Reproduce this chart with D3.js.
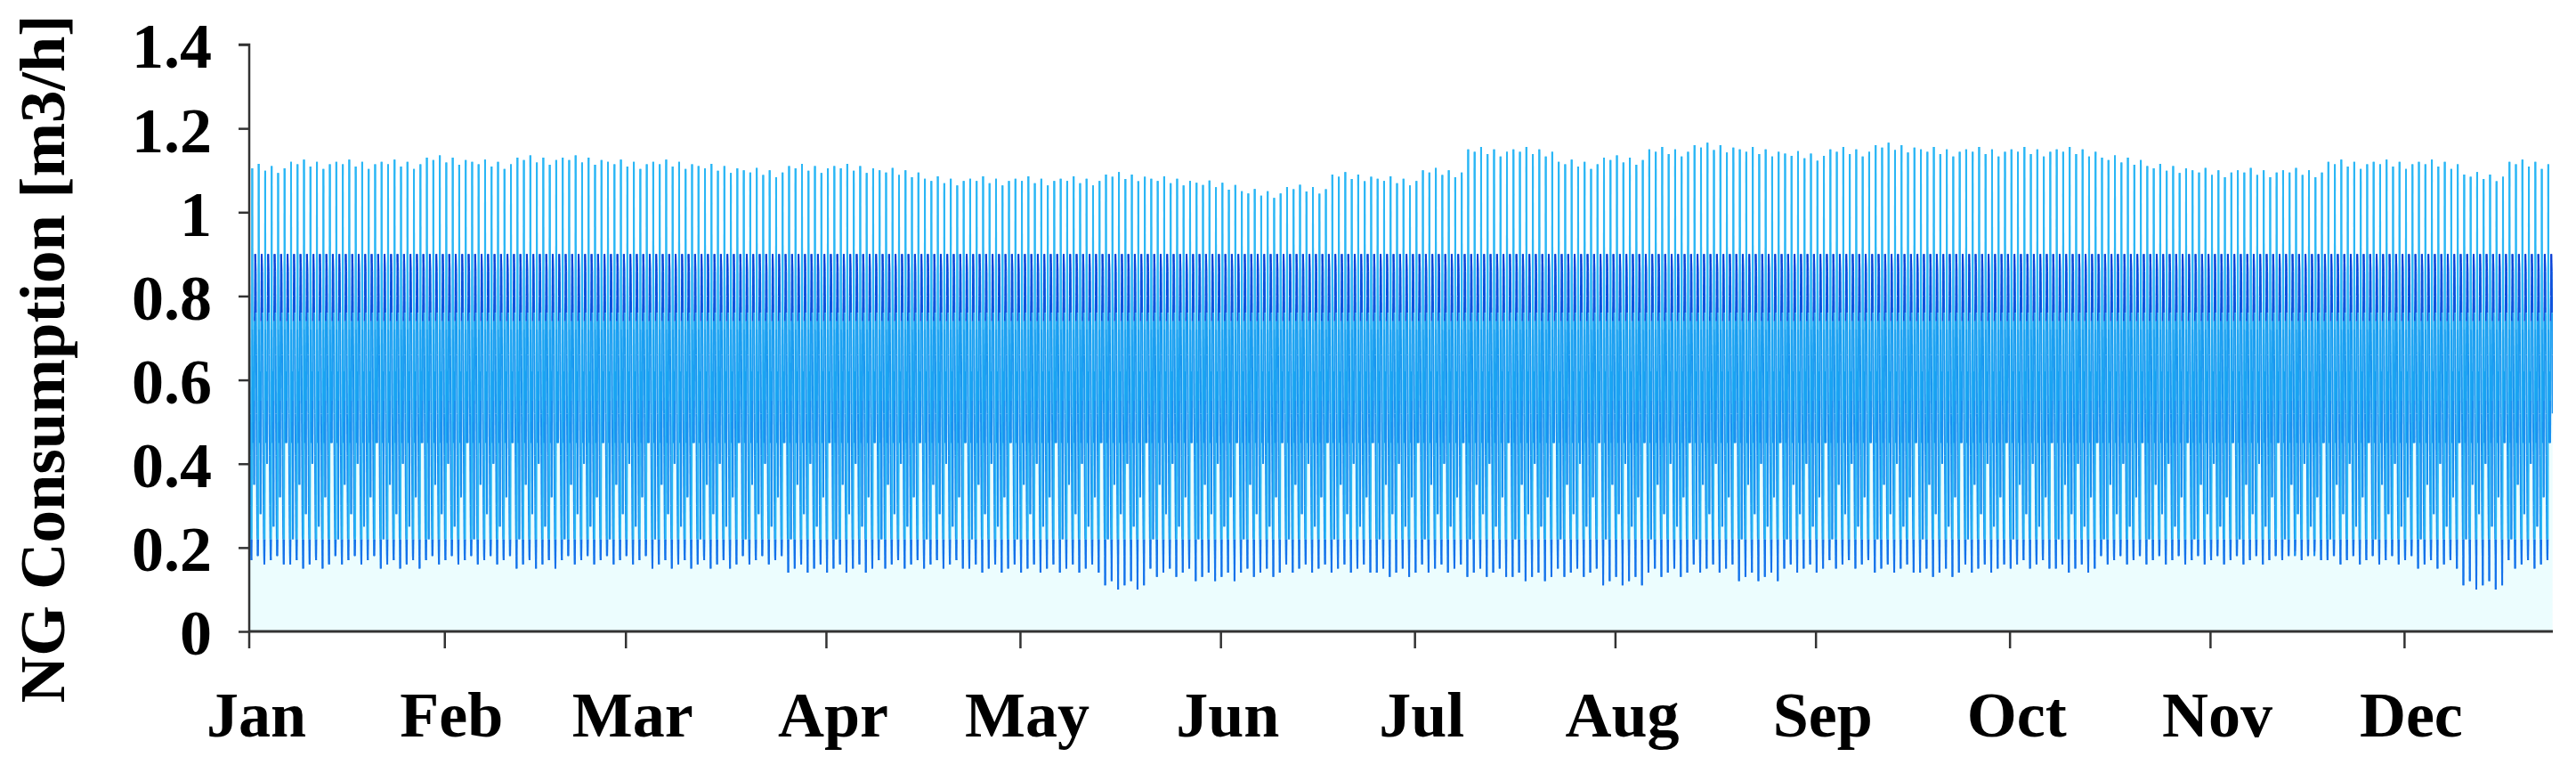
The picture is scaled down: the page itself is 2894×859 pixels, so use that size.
<!DOCTYPE html>
<html><head><meta charset="utf-8">
<script src="https://cdn.jsdelivr.net/npm/d3@7"></script>
<style>body{margin:0;background:#fff}svg{display:block}</style>
</head><body>
<svg id="c" width="2894" height="859"></svg>
<script>
const months = ["Jan","Feb","Mar","Apr","May","Jun","Jul","Aug","Sep","Oct","Nov","Dec"];
const monthStartDay = [0,31,59,90,120,151,181,212,243,273,304,334];
const yTicks = [0,0.2,0.4,0.6,0.8,1.0,1.2,1.4];
const yTickLabels = ["0","0.2","0.4","0.6","0.8","1","1.2","1.4"];
// weekly peak (m3/h), 51 weeks
const weeklyPeak = [1.11,1.12,1.12,1.12,1.13,1.12,1.13,1.13,1.12,1.12,1.11,1.10,1.11,1.11,1.10,1.08,1.08,1.08,1.08,1.09,1.08,1.07,1.05,1.06,1.09,1.08,1.10,1.15,1.15,1.12,1.13,1.15,1.16,1.15,1.14,1.15,1.16,1.15,1.15,1.15,1.15,1.13,1.11,1.10,1.10,1.10,1.12,1.12,1.12,1.09,1.12];
// weekly minimum
const weeklyMin = [0.16,0.15,0.16,0.15,0.16,0.16,0.15,0.16,0.16,0.15,0.15,0.16,0.14,0.14,0.15,0.15,0.14,0.14,0.14,0.10,0.13,0.12,0.13,0.14,0.14,0.13,0.14,0.13,0.12,0.13,0.11,0.13,0.14,0.12,0.14,0.15,0.14,0.13,0.14,0.15,0.14,0.16,0.16,0.16,0.16,0.17,0.16,0.16,0.15,0.10,0.15];
// day-of-week peak factor
const dowFactor = [1.000,0.995,1.005,0.990,1.000,0.985,0.995];
// day-of-week variation of the mid-day trough
const dowTrough = [0.22,0.35,0.28,0.40,0.25,0.32,0.45];
// typical hourly profile (m3/h); hour 4 = daily min slot, hour 7 = daily peak slot, hour 14 = trough slot
const hourProfile = [0.42,0.30,0.22,0.18,0.15,0.22,0.55,1.10,0.72,0.60,0.50,0.45,0.62,0.50,0.30,0.55,0.74,0.80,0.90,0.88,0.86,0.76,0.66,0.52];
const hourColor =  ["#1a8ff0","#1a8ff0","#1a8ff0","#1a8ff0","#1670ea","#2ab8f5","#2ab8f5","#2ab6f5","#1da3f2","#1aa0f2","#1a9af0","#1a9af0","#1aa8f3","#1a95f0","#1a90f0","#1aa0f2","#0c50dc","#0b45d8","#0a3fd6","#0b47da","#0c55de","#1a9af0","#1a95f0","#1a8ff0"];
const nDays = 357;

const svg = d3.select("#c");
const x = d3.scaleLinear().domain([0,357]).range([274,2868]);
const y = d3.scaleLinear().domain([0,1.4]).range([709,50]);
const x0 = 280, x1 = 2868;

const pts = [];
for(let d=0; d<nDays; d++){
  const w = Math.min(weeklyPeak.length-1, Math.floor(d/7));
  const pk = weeklyPeak[w]*dowFactor[d%7];
  const mn = weeklyMin[w] + (d%3)*0.01;
  for(let h=0; h<24; h++){
    let v = hourProfile[h];
    if(h===7) v = pk;
    if(h===4) v = mn;
    if(h===14) v = dowTrough[d%7];
    pts.push({t:d+h/24, v, c:hourColor[h]});
  }
}
svg.append("clipPath").attr("id","cp").append("rect").attr("x",x0+1).attr("y",0).attr("width",x1-x0-1).attr("height",720);
const pg = svg.append("g").attr("clip-path","url(#cp)");
pg.append("path").datum(pts).attr("fill","#ecfdfe")
  .attr("d", d3.area().x(p=>x(p.t)).y0(y(0)).y1(p=>y(p.v)));
pg.selectAll("line.s").data(pts.slice(0,-1)).join("line")
  .attr("x1",p=>x(p.t)).attr("y1",p=>y(p.v))
  .attr("x2",(p,i)=>x(pts[i+1].t)).attr("y2",(p,i)=>y(pts[i+1].v))
  .attr("stroke",p=>p.c).attr("stroke-width",2);

const font = "'Liberation Serif','Times New Roman',serif";
const ya = svg.append("g").attr("transform",`translate(${x0},0)`)
  .call(d3.axisLeft(y).tickValues(yTicks).tickFormat((d,i)=>yTickLabels[i]).tickSize(12).tickPadding(30));
ya.select(".domain").attr("stroke","#333").attr("stroke-width",2.5).attr("d",`M-12,${y(1.4)}H0V${y(0)+19}`);
ya.selectAll(".tick line").attr("stroke","#333").attr("stroke-width",2.5);
ya.selectAll("text").attr("font-family",font).attr("font-weight","bold").attr("font-size",72).attr("fill","#000").attr("dy","0.36em");

const xa = svg.append("g").attr("transform",`translate(0,${y(0)})`)
  .call(d3.axisBottom(x).tickValues(monthStartDay.slice(1)).tickFormat("").tickSize(19));
xa.select(".domain").attr("stroke","#333").attr("stroke-width",3).attr("d",`M${x0},0H${x1}`);
xa.selectAll(".tick line").attr("stroke","#333").attr("stroke-width",2.5);
svg.append("g").selectAll("text").data(months).join("text")
  .attr("x",(m,i)=> i===0 ? 288 : x(monthStartDay[i])+8).attr("y",827)
  .attr("text-anchor","middle").attr("font-family",font).attr("font-weight","bold").attr("font-size",72)
  .text(m=>m);
const t = svg.append("text").attr("transform","translate(72,403) rotate(-90)").attr("text-anchor","middle")
  .attr("font-family",font).attr("font-weight","bold").attr("font-size",72).text("NG Consumption [m3/h]");
const L = t.node().getComputedTextLength();
t.attr("font-size", 72*773/L);
</script>
</body></html>
